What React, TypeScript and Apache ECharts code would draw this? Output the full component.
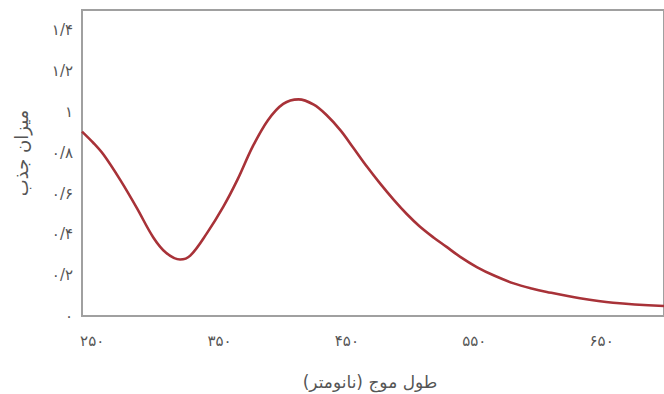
import React, { useEffect, useRef } from "react";
import * as echarts from "echarts";

// Absorption spectrum: wavelength (nm) vs absorbance
const wavelengths = [242, 251, 259, 272, 285, 298, 308, 319, 327, 340, 353, 364, 376, 388, 400, 412, 424, 434, 445, 455, 466, 476, 487, 497, 507, 518, 528, 539, 552, 566, 581, 595, 607, 633, 659, 699];
const absorbance = [0.904, 0.848, 0.79, 0.667, 0.53, 0.385, 0.31, 0.277, 0.296, 0.405, 0.536, 0.667, 0.83, 0.96, 1.04, 1.062, 1.036, 0.985, 0.91, 0.825, 0.73, 0.65, 0.568, 0.5, 0.44, 0.385, 0.34, 0.29, 0.24, 0.197, 0.16, 0.135, 0.118, 0.087, 0.065, 0.049];

const xTicks = [250, 350, 450, 550, 650];
const yTicks = [0, 0.2, 0.4, 0.6, 0.8, 1, 1.2, 1.4];

const xTitle = "طول موج (نانومتر)";
const yTitle = "میزان جذب";

const faDigits = "۰۱۲۳۴۵۶۷۸۹";
const toFa = (v: number) =>
  String(Math.round(v * 10) / 10)
    .replace(".", "/")
    .replace(/[0-9]/g, (d) => faDigits[Number(d)]);

const FONT = "DejaVu Sans";

export default function App() {
  const ref = useRef<HTMLDivElement>(null);

  useEffect(() => {
    if (!ref.current) return;
    const chart = echarts.init(ref.current, null, { renderer: "svg" });
    chart.setOption({
      animation: false,
      backgroundColor: "#ffffff",
      grid: {
        left: 82,
        top: 10,
        right: 0,
        bottom: 78,
        show: true,
        borderColor: "#a0a0a0",
        borderWidth: 2,
      },
      xAxis: {
        type: "value",
        min: 242,
        max: 699,
        axisLine: { show: false },
        axisTick: { show: false },
        splitLine: { show: false },
        axisLabel: {
          customValues: xTicks,
          formatter: (v: number) => toFa(v),
          color: "#555",
          fontFamily: FONT,
          fontSize: 15,
          margin: 17,
        },
      },
      yAxis: {
        type: "value",
        min: 0,
        max: 1.5,
        axisLine: { show: false },
        axisTick: { show: false },
        splitLine: { show: false },
        axisLabel: {
          customValues: yTicks,
          formatter: (v: number) => toFa(v),
          color: "#555",
          fontFamily: FONT,
          fontSize: 15,
          margin: 9,
        },
      },
      graphic: [
        {
          type: "text",
          x: 370,
          y: 382,
          style: {
            text: xTitle,
            fill: "#555",
            font: `17px "${FONT}"`,
            align: "center",
            verticalAlign: "middle",
          },
        },
        {
          type: "text",
          x: 21,
          y: 153,
          rotation: Math.PI / 2,
          style: {
            text: yTitle,
            fill: "#555",
            font: `18px "${FONT}"`,
            align: "center",
            verticalAlign: "middle",
          },
        },
      ],
      series: [
        {
          type: "line",
          data: wavelengths.map((w, i) => [w, absorbance[i]]),
          smooth: 0.35,
          showSymbol: false,
          clip: true,
          lineStyle: { color: "#a83238", width: 2.6 },
        },
      ],
    });
    return () => chart.dispose();
  }, []);

  return (
    <div
      ref={ref}
      style={{ position: "absolute", left: 0, top: 0, width: 664, height: 394 }}
    />
  );
}
